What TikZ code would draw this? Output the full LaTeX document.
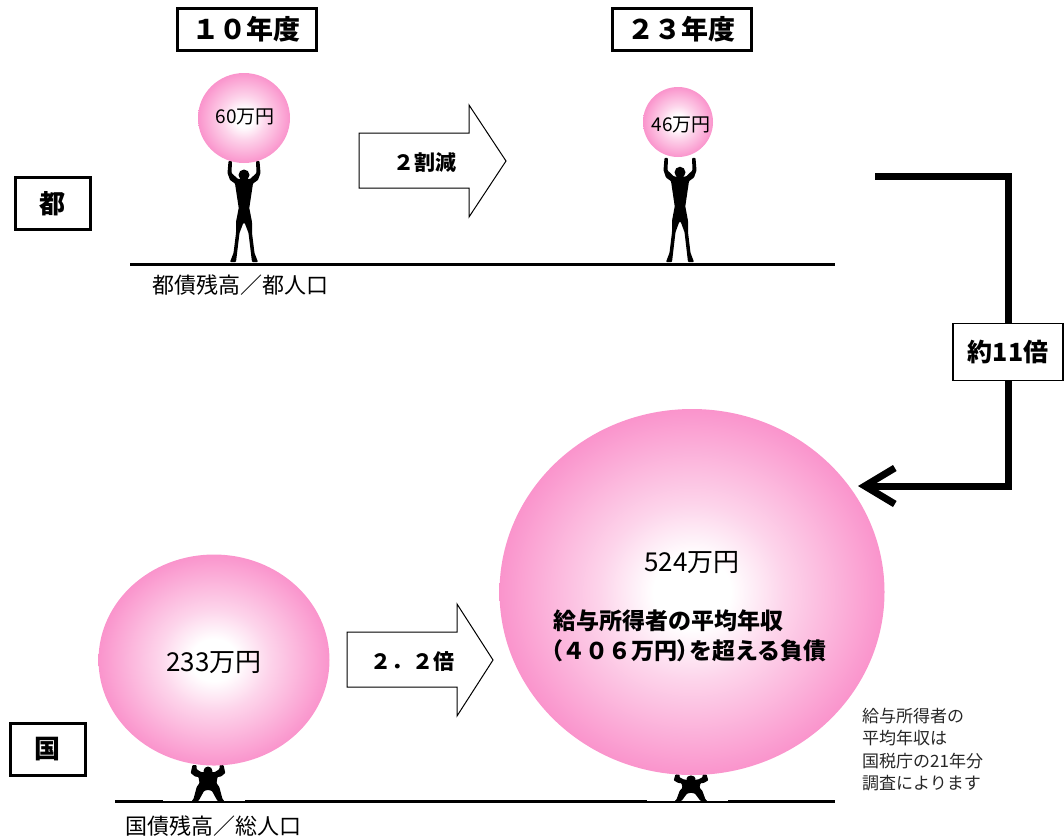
\documentclass[tikz,border=0pt]{standalone}
\usepackage{fontspec}
\usetikzlibrary{arrows.meta,shapes.geometric,backgrounds}
\newfontfamily\jp{Noto Sans CJK JP}
\definecolor{ballpink}{RGB}{250,148,204}
\pgfdeclareradialshading{pinkball}{\pgfpoint{0bp}{0bp}}{color(0bp)=(white); color(5bp)=(white); color(12bp)=(ballpink!40!white); color(19bp)=(ballpink!72!white); color(25bp)=(ballpink); color(50bp)=(ballpink)}
\newcommand{\narrowparen}[1]{{\addfontfeatures{RawFeature=+palt}#1}}

\tikzset{
  headbox/.style={draw, line width=3pt, minimum width=139pt, minimum height=42pt, inner sep=0pt,
    font={\jp\bfseries\fontsize{27}{30}\selectfont}},
  sidebox/.style={draw, line width=3pt, minimum width=75pt, minimum height=52pt, inner sep=0pt,
    font={\jp\bfseries\fontsize{26}{30}\selectfont}},
  ball/.style={ellipse, shading=pinkball, inner sep=0pt},
  balltext/.style={font={\jp\fontsize{19}{22}\selectfont}},
  bigtext/.style={font={\jp\fontsize{26}{30}\selectfont}},
  boldline/.style={font={\jp\bfseries\fontsize{23}{28}\selectfont}, anchor=west, inner sep=0pt},
  ground/.style={line width=3pt},
  caption/.style={font={\jp\fontsize{22}{24}\selectfont}, inner sep=0pt},
  blockarrow/.style={draw, fill=white, line width=1pt, line join=miter},
  arrowtext/.style={font={\jp\bfseries\fontsize{21}{24}\selectfont}, inner sep=0pt},
  ratiobox/.style={draw, fill=white, line width=1.2pt, minimum width=110pt, minimum height=57pt, inner sep=0pt,
    font={\jp\bfseries\fontsize{25}{28}\selectfont}},
  conn/.style={line width=7pt, line join=miter, -{Straight Barb[length=30pt,width=36pt]}},
  note/.style={font={\jp\fontsize{17}{22.5}\selectfont}, align=left, inner sep=0pt, text=black!85},
  standing/.pic={
    \fill[black] (0,-87) circle (5.5);
    \fill[black, rounded corners=0.8pt]
      (-15.5,-101) -- (-12,-101) -- (-12.5,-89) -- (-6,-83) -- (6,-83) -- (12.5,-89) -- (12,-101)
      -- (15.5,-101) -- (16.5,-89) -- (14,-82) -- (9,-78.5) -- (6.5,-62) -- (5.3,-54) -- (8,-40)
      -- (8,-29) -- (10.5,-9) -- (14,0) -- (8,0) -- (4.5,-29) -- (0.7,-39) -- (-0.7,-39) -- (-4.5,-29)
      -- (-8,0) -- (-14,0) -- (-10.5,-9) -- (-8,-29) -- (-8,-40) -- (-5.3,-54) -- (-6.5,-62)
      -- (-9,-78.5) -- (-14,-82) -- (-16.5,-89) -- cycle;
  },
  crouching/.pic={
    \fill[black] (0,-30) circle (4.5);
    \fill[black, rounded corners=0.8pt]
      (-15.5,-36) -- (-11.5,-36) -- (-11.5,-32) -- (-7,-29) -- (7,-29) -- (11.5,-32) -- (11.5,-36)
      -- (15.5,-36) -- (17.3,-28) -- (13,-24.5) -- (9.5,-24) -- (8.5,-18) -- (11.3,-14) -- (14.5,-2)
      -- (16.5,0) -- (9.5,0) -- (4,-10) -- (0.7,-11) -- (-0.7,-11) -- (-4,-10) -- (-9.5,0)
      -- (-16.5,0) -- (-14.5,-2) -- (-11.3,-14) -- (-8.5,-18) -- (-9.5,-24) -- (-13,-24.5)
      -- (-17.3,-28) -- cycle;
  }
}

\begin{document}
\begin{tikzpicture}[x=1pt,y=-1pt]
\useasboundingbox (0,0) rectangle (1064,839);

% year headings and row labels
\node[headbox] (h10) at (246.5,29.5) {１０年度};
\node[headbox] (h23) at (681.5,29.5) {２３年度};
\node[sidebox] (to) at (52.5,203.5) {都};
\node[sidebox] (kuni) at (47.5,749.5) {国};

% upper row: metropolitan debt per person
\draw[ground] (130,264) -- (835,264);
\pic at (244,262) {standing};
\pic[yscale=1.03] at (680,262) {standing};
\node[ball, minimum width=92pt, minimum height=90pt] (b60) at (244,118) {};
\node[balltext] (t60) at (245,117) {60万円};
\node[ball, minimum width=70pt, minimum height=70pt] (b46) at (678,122) {};
\node[balltext] (t46) at (681,125) {46万円};
\node[caption] (c1) at (240,285) {都債残高／都人口};

\draw[blockarrow] (359,133) -- (469,133) -- (469,105) -- (506,161) -- (469,217) -- (469,188) -- (359,188) -- cycle;
\node[arrowtext] (a1) at (425,163) {２割減};

% lower row: national debt per person
\draw[ground] (115,801) -- (835,801);
\fill[white] (163,785) rectangle (245,800.6);
\fill[white] (647,785) rectangle (728,800.6);
\pic at (208,801) {crouching};
\pic[yscale=0.74] at (691,801) {crouching};
\node[ball, minimum width=231pt, minimum height=211pt] (b233) at (214,660) {};
\node[bigtext] (t233) at (214,663) {233万円};
\node[ball, minimum width=385pt, minimum height=366pt] (b524) at (692,592) {};
\node[bigtext] (t524) at (692,563) {524万円};
\node[boldline] (l1) at (553,621) {給与所得者の平均年収};
\node[boldline] (l2) at (551,651) {\narrowparen{（}４０６万円\narrowparen{）}を超える負債};
\node[caption] (c2) at (213,826) {国債残高／総人口};

\draw[blockarrow] (347,632) -- (457,632) -- (457,604) -- (493,660) -- (457,716) -- (457,687) -- (347,687) -- cycle;
\node[arrowtext] (a2) at (412,662) {２．２倍};

\node[note, anchor=north west] (n1) at (862,707.5) {給与所得者の\\平均年収は\\国税庁の21年分\\調査によります};

% ratio link between the rows
\coordinate (ta) at (875,176);
\coordinate (tip) at (858,486);
\node[ratiobox] (r11) at (1008,352) {約11倍};
\begin{scope}[on background layer]
\draw[conn] (ta) -| (r11.center) |- (tip);
\end{scope}
\end{tikzpicture}
\end{document}
